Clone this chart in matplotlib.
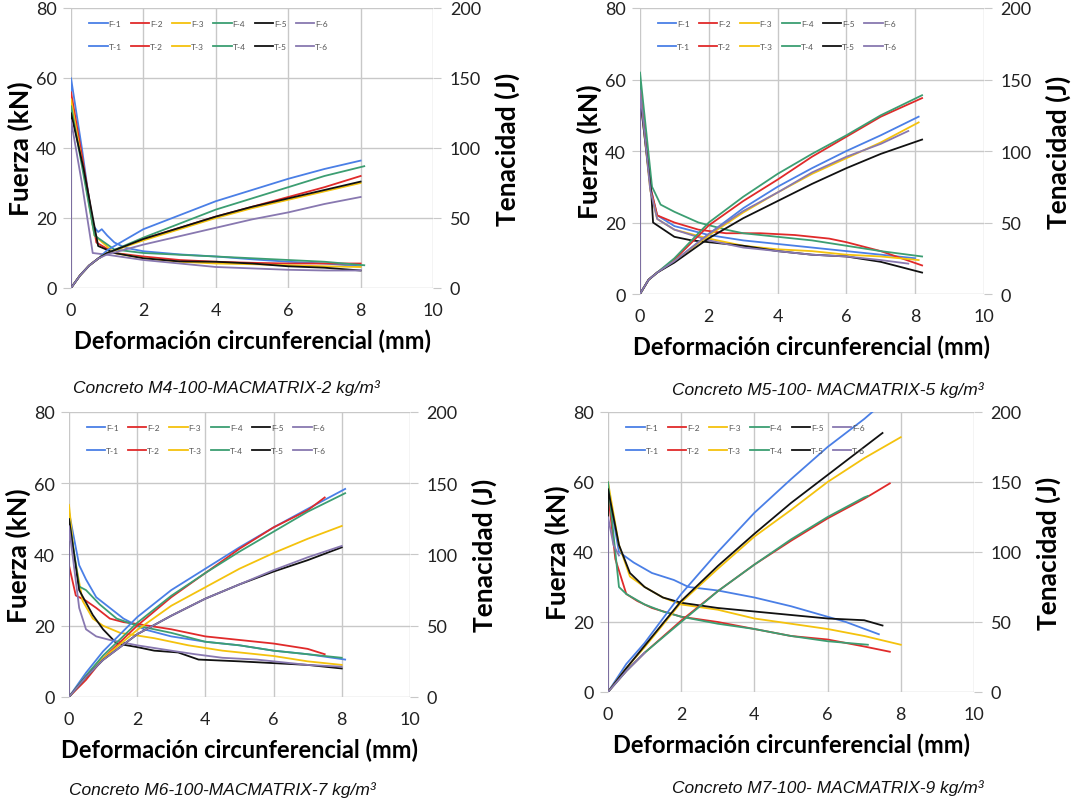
import matplotlib
matplotlib.use("Agg")
import matplotlib.pyplot as plt
from matplotlib.lines import Line2D

plt.rcParams['font.family'] = ['Lato', 'DejaVu Sans']

# series colours (same for F-n and T-n)
colors = ['#4A7FE6', '#E02A2A', '#F4C20D', '#3C9E72', '#111111', '#8878B0']
names = ['1', '2', '3', '4', '5', '6']

# ---- M4, 2 kg/m3 : force (kN) vs deformation (mm)
m4_fuerza = [
    [(0, 0), (0, 60), (0.3, 40), (0.6, 18), (0.75, 16), (0.85, 16.8), (1.0, 15), (1.2, 13), (1.5, 11.5), (2, 10.5), (3, 9.6), (4, 9), (5, 8.2), (6, 7.5), (7, 7), (8, 6.2)],
    [(0, 0), (0, 56), (0.3, 38), (0.7, 13), (1.2, 10), (2, 9), (3, 8), (4, 7.5), (5, 7.2), (6, 7), (7, 7), (8, 7)],
    [(0, 0), (0, 54), (0.3, 36), (0.65, 15), (1.2, 10), (2, 8.5), (3, 7.5), (4, 7), (5, 6.8), (6, 6.5), (7, 6.2), (8, 6)],
    [(0, 0), (0, 52), (0.3, 35), (0.65, 15), (1.2, 11), (2, 10), (3, 9.5), (4, 9), (5, 8.5), (6, 8), (7, 7.5), (8.1, 6.5)],
    [(0, 0), (0, 50), (0.35, 34), (0.75, 12), (1.2, 10), (2, 8.5), (3, 7.6), (4, 7.5), (5, 7), (6, 6.2), (7, 5.8), (8, 5)],
    [(0, 0), (0, 48), (0.3, 30), (0.6, 10), (1, 9.5), (2, 8), (3, 7), (4, 6), (5, 5.6), (6, 5.2), (7, 5), (8, 5)],
]
# toughness (J)
m4_tenacidad = [
    [(0, 0), (0.25, 9), (0.5, 16), (0.75, 21), (1, 27), (2, 42), (3, 52), (4, 62), (5, 70), (6, 78), (7, 85), (8, 91)],
    [(0, 0), (0.25, 9), (0.5, 16), (0.75, 21), (1, 25), (2, 35), (3, 43), (4, 51), (5, 58), (6, 65), (7, 72), (8, 80)],
    [(0, 0), (0.25, 9), (0.5, 16), (0.75, 21), (1, 25), (2, 34), (3, 42), (4, 50), (5, 57), (6, 63), (7, 69), (8, 75)],
    [(0, 0), (0.25, 9), (0.5, 16), (0.75, 21), (1, 25), (2, 36), (3, 46), (4, 56), (5, 64), (6, 72), (7, 80), (8.1, 87)],
    [(0, 0), (0.25, 9), (0.5, 16), (0.75, 21), (1, 25), (2, 35), (3, 43), (4, 51), (5, 58), (6, 64), (7, 70), (8, 76)],
    [(0, 0), (0.25, 9), (0.5, 16), (0.75, 21), (1, 24), (2, 31), (3, 37), (4, 43), (5, 49), (6, 54), (7, 60), (8, 65)],
]

# ---- M5, 5 kg/m3
m5_fuerza = [
    [(0, 0), (0, 58), (0.3, 30), (0.5, 22), (1, 19), (2, 16.5), (3, 15), (4, 14), (5, 13), (6, 12), (7, 11), (8, 10)],
    [(0, 0), (0, 58), (0.3, 30), (0.5, 22), (1, 20), (1.7, 18), (2.5, 17), (3.5, 17), (4.5, 16.5), (5.5, 15.5), (6, 14.5), (7, 12), (8.2, 8)],
    [(0, 0), (0, 56), (0.3, 29), (0.5, 21), (1, 18), (2, 15.5), (3, 13.5), (4, 12.5), (5, 12), (6, 11), (7, 10.5), (8.1, 9.5)],
    [(0, 0), (0, 62), (0.35, 30), (0.6, 25), (1, 23), (1.7, 20), (2.5, 18), (3, 17), (4, 16), (5, 15), (6, 13.5), (7, 12), (8.2, 10.5)],
    [(0, 0), (0, 55), (0.33, 28), (0.38, 20), (1, 16), (1.5, 15), (2, 14.5), (3, 13.5), (4, 12), (5, 11), (6, 10.5), (7, 9), (8.2, 6)],
    [(0, 0), (0, 57), (0.3, 29), (0.5, 21), (1, 18), (2, 15), (3, 13), (4, 12), (5, 11), (6, 10.5), (7, 9.5), (7.8, 8.5)],
]
m5_tenacidad = [
    [(0, 0), (0.25, 10), (0.5, 15), (1, 23), (2, 42), (3, 60), (4, 75), (5, 88), (6, 100), (7, 111), (8.1, 124)],
    [(0, 0), (0.25, 10), (0.5, 15), (1, 24), (2, 48), (3, 65), (4, 80), (5, 96), (6, 110), (7, 124), (8.2, 137)],
    [(0, 0), (0.25, 10), (0.5, 15), (1, 23), (2, 41), (3, 57), (4, 71), (5, 84), (6, 95), (7, 106), (8.1, 120)],
    [(0, 0), (0.25, 10), (0.5, 15), (1, 25), (2, 50), (3, 68), (4, 84), (5, 98), (6, 111), (7, 125), (8.2, 139)],
    [(0, 0), (0.25, 10), (0.5, 15), (1, 22), (2, 39), (3, 53), (4, 65), (5, 77), (6, 88), (7, 98), (8.2, 108)],
    [(0, 0), (0.25, 10), (0.5, 15), (1, 23), (2, 42), (3, 58), (4, 71), (5, 85), (6, 96), (7, 105), (7.8, 114)],
]

# ---- M6, 7 kg/m3
m6_fuerza = [
    [(0, 0), (0, 52), (0.3, 37), (0.5, 33), (0.8, 28), (1.2, 25), (1.6, 22), (2.2, 19), (3, 17), (4, 15.5), (5, 14.5), (6, 13), (7, 12), (8.1, 10.5)],
    [(0, 0), (0, 37), (0.2, 28.5), (0.5, 27), (0.8, 25), (1.2, 22), (1.6, 21), (2, 20.5), (3, 19), (4, 17), (5, 16), (6, 15), (7, 13.5), (7.5, 12)],
    [(0, 0), (0, 54), (0.15, 40), (0.4, 27), (0.7, 22), (1, 20), (1.5, 18), (2.5, 16.5), (3.5, 14.5), (4.5, 13), (6, 11.5), (7, 10), (8, 9)],
    [(0, 0), (0, 50), (0.3, 31), (0.5, 30), (0.9, 26), (1.4, 22), (2, 20), (3, 18), (4, 15.5), (5, 14.5), (6, 13), (7, 12), (8, 11)],
    [(0, 0), (0, 50), (0.3, 30), (0.7, 23), (1.0, 19), (1.4, 15), (2, 14), (2.5, 13), (3.2, 12.5), (3.8, 10.5), (5, 10), (6, 9.5), (7, 9), (8, 8)],
    [(0, 0), (0, 48), (0.3, 25), (0.5, 19), (0.8, 17), (1.2, 16), (2, 14.5), (3, 13), (3.7, 12), (4.5, 11), (5.5, 10.5), (6, 10), (7, 9), (8, 8.5)],
]
m6_tenacidad = [
    [(0, 0), (0.5, 17), (1, 32), (2, 56), (3, 75), (4, 90), (5, 105), (6, 119), (7, 132), (8.1, 146)],
    [(0, 0), (0.5, 12), (1, 27), (2, 50), (3, 70), (4, 87), (5, 104), (6, 119), (7, 131), (7.5, 140)],
    [(0, 0), (0.5, 14), (1, 27), (2, 47), (3, 64), (4, 77), (5, 90), (6, 101), (7, 111), (8, 120)],
    [(0, 0), (0.5, 15), (1, 29), (2, 52), (3, 71), (4, 87), (5, 102), (6, 116), (7, 130), (8.1, 143)],
    [(0, 0), (0.5, 14), (1, 26), (2, 44), (3, 57), (4, 69), (5, 79), (6, 88), (7, 96), (8, 105)],
    [(0, 0), (0.5, 14), (1, 26), (2, 44), (3, 57), (4, 69), (5, 79), (6, 89), (7, 98), (8, 106)],
]

# ---- M7, 9 kg/m3
m7_fuerza = [
    [(0, 0), (0, 58), (0.3, 40), (0.7, 37), (1.2, 34), (1.8, 32), (2.2, 30), (3, 29), (4, 27), (5, 24.5), (6, 21.5), (6.5, 20), (7.4, 16.5)],
    [(0, 0), (0, 57), (0.2, 38), (0.5, 28), (0.8, 26), (1.2, 24), (2, 21.5), (3, 20), (4, 18), (5, 16), (6, 15), (7, 13), (7.7, 11.5)],
    [(0, 0), (0, 60), (0.3, 42), (0.6, 33), (1.0, 30), (1.5, 27), (2, 25), (3, 23.5), (4, 21), (5, 19.5), (6, 18), (7, 16), (8, 13.5)],
    [(0, 0), (0, 60), (0.3, 30), (0.5, 28), (1, 25), (1.5, 23), (2, 21.5), (3, 19.5), (4, 18), (5, 16), (6, 14.5), (7.1, 13.5)],
    [(0, 0), (0, 58), (0.3, 42), (0.6, 34), (1.0, 30), (1.5, 27), (2, 25.5), (3, 24), (4, 23), (5, 22), (6, 21), (7, 20.5), (7.5, 19)],
    [(0, 0), (0, 50), (0.15, 42), (0.3, 39)],
]
m7_tenacidad = [
    [(0, 0), (0.5, 20), (1, 35), (2, 70), (3, 100), (4, 128), (5, 152), (6, 175), (7, 195), (7.4, 204)],
    [(0, 0), (0.5, 15), (1, 28), (2, 51), (3, 72), (4, 91), (5, 108), (6, 124), (7, 138), (7.7, 149)],
    [(0, 0), (0.5, 17), (1, 32), (2, 64), (3, 88), (4, 111), (5, 130), (6, 150), (7, 167), (8, 182)],
    [(0, 0), (0.5, 15), (1, 28), (2, 50), (3, 72), (4, 91), (5, 109), (6, 125), (7, 139), (7.1, 140)],
    [(0, 0), (0.5, 17), (1, 33), (2, 65), (3, 90), (4, 113), (5, 135), (6, 155), (7, 175), (7.5, 185)],
    [(0, 0), (0.5, 15), (1, 28)],
]

captions = [
    'Concreto M4-100-MACMATRIX-2 kg/m³',
    'Concreto M5-100- MACMATRIX-5 kg/m³',
    'Concreto M6-100-MACMATRIX-7 kg/m³',
    'Concreto M7-100- MACMATRIX-9 kg/m³',
]

# axes rectangles in figure fractions [left, bottom, width, height]
rects = [
    [0.0661, 0.6401, 0.3371, 0.3487],
    [0.5959, 0.6326, 0.3203, 0.3562],
    [0.0642, 0.1308, 0.3175, 0.3549],
    [0.5661, 0.1370, 0.3408, 0.3487],
]
caption_pos = [(0.068, 0.510), (0.626, 0.508), (0.064, 0.010), (0.626, 0.013)]

fig = plt.figure(figsize=(10.74, 8.03), dpi=100)

panels = [(m4_fuerza, m4_tenacidad), (m5_fuerza, m5_tenacidad),
          (m6_fuerza, m6_tenacidad), (m7_fuerza, m7_tenacidad)]

grid_c = '#c8c8c8'
for i, (fuerza, tenacidad) in enumerate(panels):
    ax = fig.add_axes(rects[i])
    ax2 = ax.twinx()
    for k, curve in enumerate(fuerza):
        xs = [p[0] for p in curve]
        ys = [p[1] for p in curve]
        ax.plot(xs, ys, color=colors[k], lw=1.3)
    for k, curve in enumerate(tenacidad):
        xs = [p[0] for p in curve]
        ys = [p[1] for p in curve]
        ax2.plot(xs, ys, color=colors[k], lw=1.3)

    ax.set_xlim(0, 10)
    ax.set_ylim(0, 80)
    ax2.set_ylim(0, 200)
    ax.set_xticks([0, 2, 4, 6, 8, 10])
    ax.set_yticks([0, 20, 40, 60, 80])
    ax2.set_yticks([0, 50, 100, 150, 200])
    ax.grid(True, color=grid_c, lw=1)
    ax.set_axisbelow(True)
    for a in (ax, ax2):
        for s in a.spines.values():
            s.set_visible(False)
    ax.tick_params(axis='y', length=6, color=grid_c, labelsize=13, labelcolor='#222222', pad=4)
    ax.tick_params(axis='x', length=0, labelsize=13, labelcolor='#222222', pad=10)
    ax2.tick_params(axis='y', length=6, color=grid_c, labelsize=13, labelcolor='#222222', pad=6)

    ax.set_xlabel('Deformación circunferencial (mm)', fontsize=17, fontweight='bold', labelpad=8)
    ax.set_ylabel('Fuerza (kN)', fontsize=19, fontweight='bold', labelpad=2)
    ax2.set_ylabel('Tenacidad (J)', fontsize=19, fontweight='bold', labelpad=10)

    # legend: F row on top, T row below
    handles = []
    labels = []
    for k in range(6):
        handles.append(Line2D([], [], color=colors[k], lw=1.3))
        labels.append('F-' + names[k])
        handles.append(Line2D([], [], color=colors[k], lw=1.3))
        labels.append('T-' + names[k])
    leg = ax2.legend(handles, labels, ncol=6, loc='upper left', bbox_to_anchor=(0.03, 0.985),
                     frameon=False, fontsize=6, handlelength=2.2, handletextpad=0.1,
                     columnspacing=1.1, labelspacing=1.9)
    for t in leg.get_texts():
        t.set_color('#555555')

    fig.text(caption_pos[i][0], caption_pos[i][1], captions[i], fontsize=12.5, style='italic',
             family=['Liberation Sans Narrow', 'Liberation Sans', 'DejaVu Sans'],
             color='#111111')

fig.savefig('out.png', dpi=100)
